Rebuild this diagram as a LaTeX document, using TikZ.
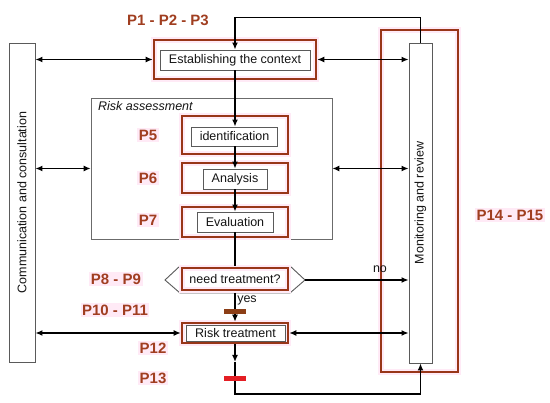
\documentclass[tikz,border=0pt]{standalone}
\usepackage{fontspec}
\setmainfont{Liberation Sans}
\usetikzlibrary{arrows.meta}
\definecolor{redc}{RGB}{152,54,24}
\definecolor{ptext}{RGB}{160,62,32}
\definecolor{pinkc}{RGB}{255,234,246}
\definecolor{grayc}{RGB}{90,90,90}
\definecolor{txtc}{RGB}{20,20,20}
\definecolor{barbrown}{RGB}{140,62,22}
\definecolor{barred}{RGB}{228,30,36}
\tikzset{
  redbox/.style={draw=redc, line width=2.6pt, preaction={draw=pinkc, line width=6pt}, inner sep=0pt},
  graybox/.style={draw=grayc, line width=0.9pt, fill=white, inner sep=0pt, text=txtc},
  plabel/.style={text=ptext, font=\bfseries\fontsize{15}{17}\selectfont, inner sep=1.5pt},
  plabelbg/.style={plabel, fill=pinkc},
  conn/.style={line width=1.3pt, black},
  arr/.style={conn, -{Latex[length=7pt,width=6pt]}},
  dbl/.style={conn, {Latex[length=7pt,width=6pt]}-{Latex[length=7pt,width=6pt]}},
  barnode/.style={inner sep=0pt, minimum width=22pt, minimum height=5pt},
  smalltext/.style={text=txtc, inner sep=0pt}
}
\begin{document}
\begin{tikzpicture}[x=1pt,y=-1pt, font=\fontsize{12.5}{14}\selectfont]
\useasboundingbox (0,0) rectangle (550,403);

% red frames
\node[redbox, minimum width=77pt, minimum height=342pt] (monred) at (419.5,201) {};
\node[redbox, minimum width=162pt, minimum height=39pt] (estred) at (235,59.5) {};
\node[draw=grayc!90, line width=0.8pt, minimum width=241pt, minimum height=141pt] (ra) at (211.5,168.5) {};
\node[smalltext, anchor=north west, font=\itshape\fontsize{12.5}{14}\selectfont] (ralabel) at (98,101) {Risk assessment};
\node[redbox, minimum width=106pt, minimum height=38pt] (identred) at (235,135) {};
\node[redbox, minimum width=106pt, minimum height=30pt] (anared) at (235,178) {};
\node[redbox, minimum width=106pt, minimum height=30pt] (evared) at (235,222) {};

% side boxes
\node[graybox, minimum width=26pt, minimum height=319pt] (comm) at (22,202.5) {};
\node[smalltext, rotate=90] (commtext) at (comm.center) {Communication and consultation};
\node[graybox, minimum width=23pt, minimum height=320pt] (mon) at (420.5,203) {};
\node[smalltext, rotate=90] (montext) at (mon.center) {Monitoring and review};

% inner boxes
\node[graybox, minimum width=150pt, minimum height=20pt] (est) at (235,60) {Establishing the context};
\node[graybox, minimum width=86pt, minimum height=19pt] (ident) at (234.5,136.5) {identification};
\node[graybox, minimum width=64pt, minimum height=20pt] (ana) at (235,179) {Analysis};
\node[graybox, minimum width=76pt, minimum height=20pt] (eva) at (235,222) {Evaluation};

% decision
\coordinate (hexleft) at (165,280);
\coordinate (hexright) at (305,280);
\coordinate (hextop) at (235,266);
\coordinate (hexbot) at (235,293);
\draw[draw=grayc, line width=0.9pt, fill=white] (hexleft) -- (180,266) -- (290,266) -- (hexright) -- (290,293) -- (180,293) -- cycle;
\node[redbox, minimum width=106pt, minimum height=22pt, text=txtc] (need) at (235,279) {need treatment?};

% risk treatment
\node[redbox, minimum width=106pt, minimum height=20pt] (rtred) at (235,333) {};
\node[graybox, minimum width=99pt, minimum height=16pt] (rt) at (235.5,333) {Risk treatment};

% connectors
\draw[arr] (mon.north) -- ++(0,-25) -| (est.north);
\draw[dbl] (estred.west) -- (comm.east |- estred.west);
\draw[dbl] (estred.east) -- (mon.west |- estred.east);
\draw[dbl] (ra.west) -- (comm.east |- ra.west);
\draw[dbl] (ra.east) -- (mon.west |- ra.east);
\draw[arr] (est.south) -- (ident.north -| est.south);
\draw[arr] (ident.south -| ana.north) -- (ana.north);
\draw[arr] (ana.south) -- (eva.north);
\draw[conn] (eva.south) -- (hextop);
\draw[arr] (hexright) -- (mon.west |- hexright);
\draw[arr] (hexbot) -- (rtred.north);
\draw[dbl] (rtred.west) -- (comm.east |- rtred.west);
\draw[dbl] (rtred.east) -- (mon.west |- rtred.east);
\coordinate (midarr) at (235,362);
\coordinate (turn) at (235,394);
\draw[arr] (rtred.south) -- (midarr);
\draw[arr] (midarr) -- (turn) -| (mon.south);

% labels on connectors
\node[smalltext] (nolabel) at (380,269) {no};
\node[smalltext] (yeslabel) at (247,300) {yes};

% bars
\node[barnode, fill=barbrown] (bar1) at (235,312) {};
\node[barnode, fill=barred] (bar2) at (235,379) {};

% P labels
\node[plabel] (p123) at (168,20) {P1 - P2 - P3};
\node[plabelbg] (p5) at (148,135) {P5};
\node[plabelbg] (p6) at (148,178) {P6};
\node[plabelbg] (p7) at (148,220) {P7};
\node[plabelbg] (p89) at (116,279) {P8 - P9};
\node[plabelbg] (p1011) at (115,310) {P10 - P11};
\node[plabelbg] (p12) at (153,348) {P12};
\node[plabelbg] (p13) at (153,378) {P13};
\node[plabelbg] (p1415) at (510,215) {P14 - P15};
\end{tikzpicture}
\end{document}
